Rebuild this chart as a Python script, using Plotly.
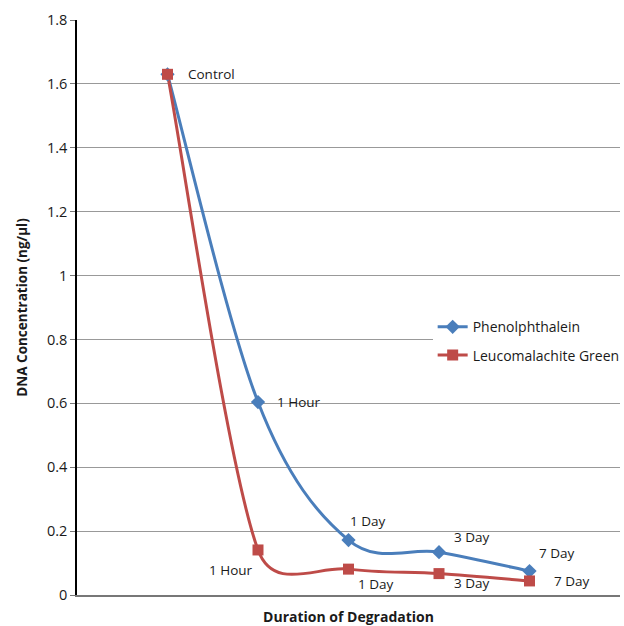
import math
import plotly.graph_objects as go

x_pos = [1, 2, 3, 4, 5]
labels = ["Control", "1 Hour", "1 Day", "3 Day", "7 Day"]
phenol = [1.63, 0.604, 0.172, 0.134, 0.075]
leuco = [1.63, 0.141, 0.081, 0.067, 0.044]
y_ticks = [0, 0.2, 0.4, 0.6, 0.8, 1, 1.2, 1.4, 1.6, 1.8]
y_tick_text = ["0", "0.2", "0.4", "0.6", "0.8", "1", "1.2", "1.4", "1.6", "1.8"]

BLUE = "#4A7EBB"
RED = "#BE4B48"
FONT = "Open Sans"
TXT = "#1a1a1a"

W, H = 624, 626
ML, MR, MT, MB = 77, 4, 20, 31
XR = [0, 6]
YR = [0, 1.8]
SX = (W - ML - MR) / (XR[1] - XR[0])   # px per x unit
SY = (H - MT - MB) / (YR[1] - YR[0])   # px per y unit


def smooth_path(xs, ys):
    """Excel-style smoothed line: cubic Bezier through the data points."""
    n = len(xs)
    P = list(zip(xs, ys))

    def px_len(a, b):
        return math.hypot((b[0] - a[0]) * SX, (b[1] - a[1]) * SY)

    def tangent(i):
        a = P[max(i - 1, 0)]
        b = P[min(i + 1, n - 1)]
        return (b[0] - a[0], b[1] - a[1]), px_len(a, b)

    d = f"M {P[0][0]},{P[0][1]}"
    for i in range(n - 1):
        seg = px_len(P[i], P[i + 1])
        T0, L0 = tangent(i)
        T1, L1 = tangent(i + 1)
        f0 = min(1 / 6, seg / (2 * L0)) if L0 else 0
        f1 = min(1 / 6, seg / (2 * L1)) if L1 else 0
        c1 = (P[i][0] + f0 * T0[0], P[i][1] + f0 * T0[1])
        c2 = (P[i + 1][0] - f1 * T1[0], P[i + 1][1] - f1 * T1[1])
        d += f" C {c1[0]},{c1[1]} {c2[0]},{c2[1]} {P[i+1][0]},{P[i+1][1]}"
    return d


fig = go.Figure()
series = [("Phenolphthalein", phenol, BLUE, "diamond", "a"),
          ("Leucomalachite Green", leuco, RED, "square", "b")]

shapes = []
for name, vals, col, sym, grp in series:
    shapes.append(dict(type="path", xref="x", yref="y", path=smooth_path(x_pos, vals),
                       line=dict(color=col, width=3), layer="between"))
    fig.add_trace(go.Scatter(
        x=x_pos, y=vals, name=name, mode="markers",
        marker=dict(symbol=sym, size=11, color=col),
        showlegend=False, legendgroup=grp,
    ))
for name, vals, col, sym, grp in series:
    fig.add_trace(go.Scatter(
        x=[None], y=[None], name=name, mode="lines+markers",
        line=dict(color=col, width=3),
        marker=dict(symbol=sym, size=11, color=col),
        legendgroup=grp,
    ))

# data label offsets in pixels: (xshift to left edge, yshift of centre)
ann = [dict(x=x_pos[0], y=leuco[0], text=labels[0], xshift=18, yshift=0)]
ph_off = [None, (17, 0), (-1, 19), (13, 15), (7, 18)]
le_off = [None, (-51, -20), (7, -15), (13, -9), (22, 0)]
for i in range(1, 5):
    dx, dy = ph_off[i]
    ann.append(dict(x=x_pos[i], y=phenol[i], text=labels[i], xshift=dx, yshift=dy))
    dx, dy = le_off[i]
    ann.append(dict(x=x_pos[i], y=leuco[i], text=labels[i], xshift=dx, yshift=dy))

annotations = [dict(xref="x", yref="y", showarrow=False, xanchor="left", yanchor="middle",
                    font=dict(family=FONT, size=13.5, color=TXT), **a) for a in ann]

fig.update_layout(
    width=W, height=H,
    margin=dict(l=ML, r=MR, t=MT, b=MB, autoexpand=False),
    paper_bgcolor="white", plot_bgcolor="white",
    font=dict(family=FONT, size=14, color=TXT),
    xaxis=dict(range=XR, showgrid=False, showticklabels=False, ticks="",
               zeroline=False, showline=True, linecolor="#777", linewidth=2,
               title=dict(text="<b>Duration of Degradation</b>", font=dict(family=FONT, size=14), standoff=16)),
    yaxis=dict(range=YR, tickvals=y_ticks, ticktext=y_tick_text,
               showgrid=True, gridcolor="#999", gridwidth=1, zeroline=False,
               showline=True, linecolor="black", linewidth=1.5,
               ticks="outside", ticklen=5, tickcolor="#777",
               tickfont=dict(family=FONT, size=14.5),
               title=dict(text="<b>DNA Concentration (ng/µl)</b>", font=dict(family=FONT, size=13.5), standoff=16)),
    legend=dict(x=0.655, y=0.4935, xanchor="left", yanchor="top",
                bgcolor="white", font=dict(family=FONT, size=14),
                traceorder="grouped", tracegroupgap=7),
    shapes=shapes,
    annotations=annotations,
)

fig.write_html("out.html")
